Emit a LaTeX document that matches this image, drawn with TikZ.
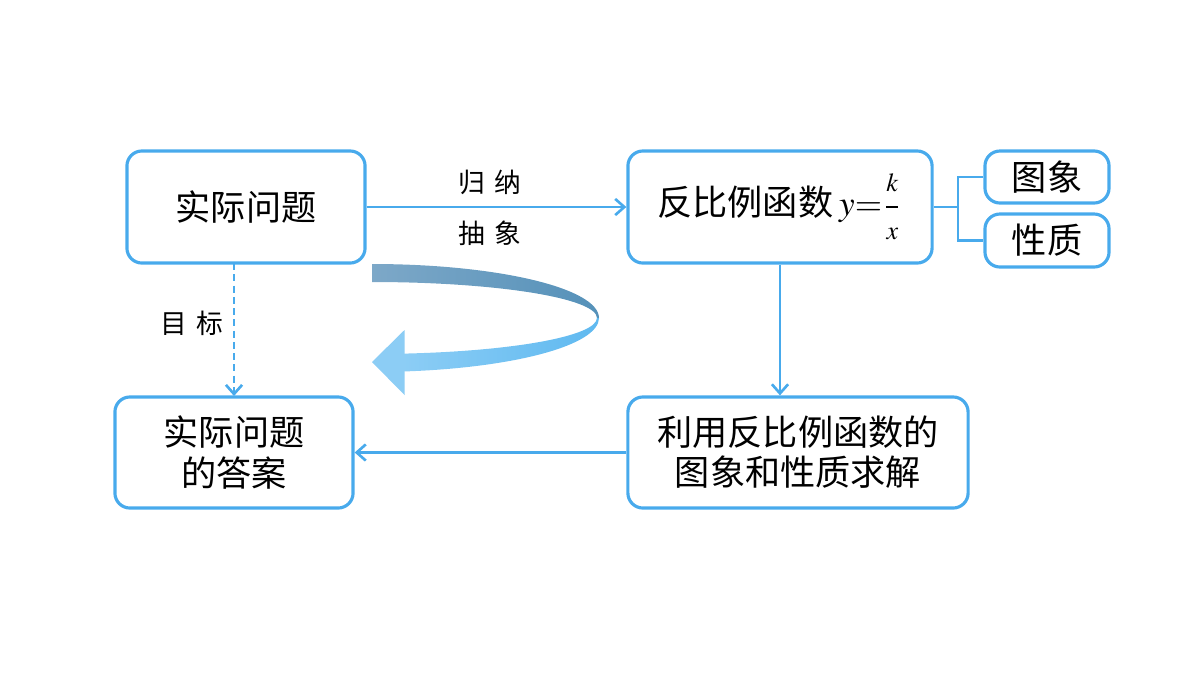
\documentclass[tikz,border=0pt]{standalone}
\usepackage{mathptmx}
\usepackage{fontspec}
\setmainfont{Liberation Serif}
\newfontfamily\cjk{Noto Sans CJK SC}
\usetikzlibrary{arrows.meta}
\definecolor{lineblue}{RGB}{72,170,236}
\definecolor{darkband}{RGB}{125,168,200}
\definecolor{darkbandR}{RGB}{85,145,185}
\definecolor{lightband}{RGB}{140,205,245}
\definecolor{lightbandR}{RGB}{95,185,240}
\tikzset{
  box/.style={draw=lineblue, line width=0.9pt, rounded corners=0.15cm, align=center,
    font=\cjk\fontsize{10}{11.4}\selectfont, inner sep=0pt},
  conn/.style={draw=lineblue, line width=0.75pt, -{Straight Barb[length=2.6pt,width=4.6pt]}},
  dconn/.style={draw=lineblue, line width=0.75pt, dash pattern=on 2pt off 1.2pt,
    -{Straight Barb[length=2.6pt,width=4.6pt]}},
  lab/.style={font=\cjk\fontsize{7.6}{9}\selectfont, inner sep=0pt},
}
\begin{document}
\begin{tikzpicture}[x=0.01cm, y=-0.01cm]
\useasboundingbox (0,0) rectangle (1200,675);
% boxes
\node[box, minimum width=2.38cm, minimum height=1.12cm] (A) at (246,207) {实际问题};
\node[box, minimum width=3.04cm, minimum height=1.12cm] (B) at (780,207)
  {反比例函数\,$y{=}{\displaystyle\frac{\scriptstyle k}{\scriptstyle x}}$};
\node[box, minimum width=1.24cm, minimum height=0.52cm] (C) at (1047,177) {图象};
\node[box, minimum width=1.24cm, minimum height=0.53cm] (D) at (1047,240.5) {性质};
\node[box, minimum width=2.38cm, minimum height=1.11cm] (E) at (234,452.5) {实际问题\\的答案};
\node[box, minimum width=3.40cm, minimum height=1.11cm] (F) at (798,452.5) {利用反比例函数的\\图象和性质求解};
% connectors
\draw[conn] (A.east) -- (B.west);
\node[lab] (l1) at (490,182) {归\hspace{0.35em}纳};
\node[lab] (l2) at (490,233) {抽\hspace{0.35em}象};
\draw[conn] (B.south) -- (B.south |- F.north);
\draw[conn] (F.west) -- (E.east);
\draw[dconn] (234,263) coordinate (a1) -- (234,396) coordinate (e1);
\node[lab] (l3) at (192,323) {目\hspace{0.35em}标};
\coordinate (br) at (958,207);
\draw[draw=lineblue, line width=0.75pt] (B.east) -- (br);
\draw[draw=lineblue, line width=0.75pt] (C.west) -- (br |- C.west) -- (br |- D.west) -- (D.west);
% curved ribbon arrow
\shade[left color=darkband, right color=darkbandR]
  (372,264) arc[start angle=-90, end angle=0, x radius=227, y radius=54]
  -- (597,318) arc[start angle=0, end angle=-90, x radius=225, y radius=36] -- cycle;
\shade[left color=lightband, right color=lightbandR]
  (599,318) arc[start angle=0, end angle=82, x radius=227, y radius=54]
  -- (404,353.6) arc[start angle=81.8, end angle=0, x radius=225, y radius=36] -- cycle;
\fill[lightband] (372,362) -- (404.5,330) -- (404.5,395) -- cycle;
\end{tikzpicture}
\end{document}
